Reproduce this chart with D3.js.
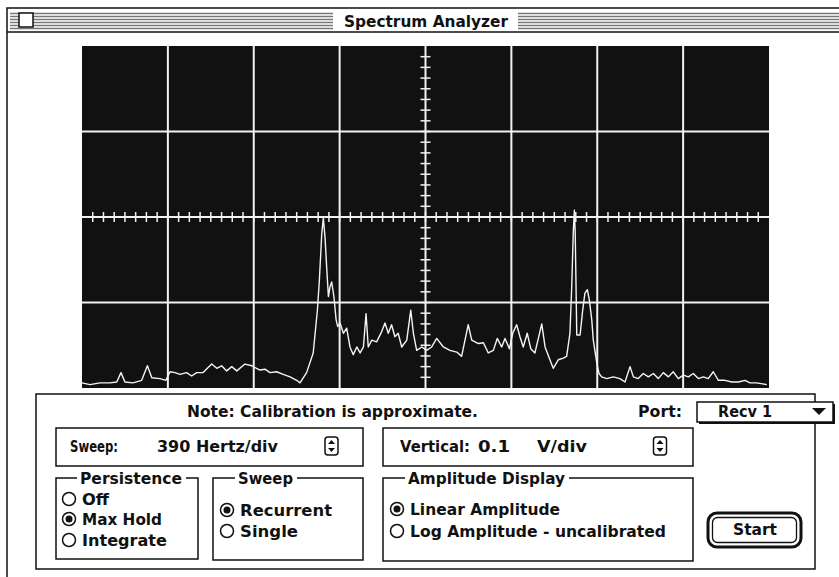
<!DOCTYPE html>
<html>
<head>
<meta charset="utf-8">
<script src="https://cdn.jsdelivr.net/npm/d3@7"></script>
<style>
  body{margin:0;background:#fff;}
  svg{display:block;}
  text{font-family:"DejaVu Sans",sans-serif;font-weight:bold;fill:#111;}
</style>
</head>
<body>
<script>
// sweep: 390 Hz/div, 8 div ; vertical: 0.1 V/div, 4 div
const freqHz=[0,36,82,127,158,177,195,232,271,297,
  317,354,381,400,422,445,475,498,521,550,
  589,612,634,657,680,703,740,771,808,831,
  854,884,914,945,975,990,1020,1050,1069,1078,
  1089,1096,1104,1111,1119,1126,1134,1144,1154,1161,
  1172,1187,1202,1217,1232,1248,1263,1278,1290,1300,
  1316,1338,1361,1376,1391,1406,1421,1436,1452,1475,
  1493,1505,1520,1543,1565,1588,1611,1641,1671,1702,
  1724,1754,1770,1800,1823,1845,1868,1886,1906,1921,
  1941,1956,1974,1989,2004,2022,2038,2057,2088,2103,
  2125,2140,2163,2186,2201,2216,2224,2231,2236,2240,
  2247,2262,2274,2284,2295,2304,2315,2322,2338,2348,
  2360,2383,2413,2443,2466,2489,2504,2526,2549,2572,
  2595,2617,2640,2663,2685,2708,2731,2754,2776,2799,
  2822,2844,2867,2890,2920,2951,2981,3011,3034,3064,3110];
const ampV=[0.006,0.004,0.006,0.006,0.007,0.018,0.007,0.006,0.009,0.026,
  0.012,0.011,0.009,0.019,0.018,0.016,0.018,0.014,0.018,0.018,
  0.028,0.023,0.026,0.020,0.025,0.020,0.028,0.026,0.021,0.022,
  0.018,0.019,0.016,0.013,0.009,0.006,0.018,0.041,0.091,0.126,
  0.181,0.199,0.175,0.142,0.107,0.118,0.124,0.107,0.080,0.072,
  0.076,0.064,0.070,0.048,0.039,0.048,0.041,0.048,0.087,0.048,
  0.056,0.054,0.066,0.076,0.064,0.074,0.060,0.064,0.048,0.056,
  0.091,0.064,0.044,0.048,0.044,0.048,0.058,0.048,0.044,0.042,
  0.037,0.074,0.056,0.052,0.053,0.041,0.044,0.058,0.048,0.058,
  0.046,0.064,0.074,0.060,0.048,0.064,0.046,0.041,0.075,0.048,
  0.033,0.023,0.033,0.035,0.037,0.064,0.118,0.181,0.208,0.181,
  0.062,0.062,0.091,0.111,0.115,0.103,0.080,0.056,0.029,0.017,
  0.013,0.011,0.013,0.011,0.007,0.025,0.013,0.011,0.017,0.013,
  0.017,0.011,0.018,0.013,0.019,0.011,0.015,0.013,0.017,0.011,
  0.013,0.011,0.019,0.009,0.009,0.007,0.007,0.009,0.006,0.006,0.004];

const hzPerDiv=390, vPerDiv=0.1, xDivs=8, yDivs=4, subDivs=8;
const persistenceOpts=["Off","Max Hold","Integrate"], persistenceSel=1;
const sweepOpts=["Recurrent","Single"], sweepSel=0;
const amplitudeOpts=["Linear Amplitude","Log Amplitude - uncalibrated"], amplitudeSel=0;

const w=839, h=577;
const plot={left:82,right:769,top:46,bottom:388};

const svg=d3.select("body").append("svg").attr("width",w).attr("height",h);
svg.append("rect").attr("width",w).attr("height",h).attr("fill","#fff");

const txt=(s,x,y,len,size,anchor)=>{
  const t=svg.append("text").text(s).attr("x",x).attr("y",y)
    .style("font-size",(size||14)+"px");
  if(anchor) t.attr("text-anchor",anchor);
  if(len) t.attr("textLength",len).attr("lengthAdjust","spacingAndGlyphs");
  return t;
};
const ln=(x1,y1,x2,y2,sw,col)=>svg.append("line")
  .attr("x1",x1).attr("y1",y1).attr("x2",x2).attr("y2",y2)
  .attr("stroke",col||"#111").attr("stroke-width",sw||1.5);

// window frame + title bar
svg.append("rect").attr("x",7).attr("y",8).attr("width",840).attr("height",600)
  .attr("fill","none").attr("stroke","#111").attr("stroke-width",1.5);
ln(7,32,839,32,1.5);
for(let i=0;i<6;i++){
  const y=13.5+i*3;
  ln(10,y,333,y,1.3,"#777");
  ln(518,y,839,y,1.3,"#777");
}
svg.append("rect").attr("x",19).attr("y",13).attr("width",14).attr("height",14)
  .attr("fill","#fff").attr("stroke","#111").attr("stroke-width",1.5);
txt("Spectrum Analyzer",344,27,164,15);

// scope screen
const x=d3.scaleLinear().domain([0,hzPerDiv*xDivs]).range([plot.left,plot.right]);
const y=d3.scaleLinear().domain([0,vPerDiv*yDivs]).range([plot.bottom,plot.top]);

const scr=svg.append("g");
scr.append("rect").attr("x",plot.left).attr("y",plot.top)
  .attr("width",plot.right-plot.left).attr("height",plot.bottom-plot.top).attr("fill","#111");

const xGrid=d3.range(1,xDivs).map(i=>i*hzPerDiv);
const yGrid=d3.range(1,yDivs).map(i=>i*vPerDiv);
scr.selectAll(".vg").data(xGrid).join("line")
  .attr("x1",d=>x(d)).attr("x2",d=>x(d)).attr("y1",plot.top).attr("y2",plot.bottom)
  .attr("stroke","#f2f2f2").attr("stroke-width",2);
scr.selectAll(".hg").data(yGrid).join("line")
  .attr("y1",d=>y(d)).attr("y2",d=>y(d)).attr("x1",plot.left).attr("x2",plot.right)
  .attr("stroke","#f2f2f2").attr("stroke-width",2);

const xc=hzPerDiv*xDivs/2, yc=vPerDiv*yDivs/2;
const xMinor=d3.range(1,xDivs*subDivs).map(i=>i*hzPerDiv/subDivs);
const yMinor=d3.range(1,yDivs*subDivs).map(i=>i*vPerDiv/subDivs);
scr.selectAll(".xm").data(xMinor).join("line")
  .attr("x1",d=>x(d)).attr("x2",d=>x(d)).attr("y1",y(yc)-5).attr("y2",y(yc)+5)
  .attr("stroke","#f2f2f2").attr("stroke-width",1.5);
scr.selectAll(".ym").data(yMinor).join("line")
  .attr("y1",d=>y(d)).attr("y2",d=>y(d)).attr("x1",x(xc)-5).attr("x2",x(xc)+5)
  .attr("stroke","#f2f2f2").attr("stroke-width",1.5);

const trace=freqHz.map((f,i)=>[f,ampV[i]]);
scr.append("path").datum(trace)
  .attr("d",d3.line().x(d=>x(d[0])).y(d=>y(d[1])))
  .attr("fill","none").attr("stroke","#f4f4f4").attr("stroke-width",1.4)
  .attr("stroke-linejoin","round");

// control panel
svg.append("rect").attr("x",36).attr("y",394).attr("width",779).attr("height",175)
  .attr("fill","#fff").attr("stroke","#111").attr("stroke-width",1.5);
txt("Note: Calibration is approximate.",187,417,291,15);
txt("Port:",638,417,44,15);
svg.append("rect").attr("x",699).attr("y",404).attr("width",136).attr("height",20).attr("fill","#111");
svg.append("rect").attr("x",697).attr("y",402).attr("width",136).attr("height",20)
  .attr("fill","#fff").attr("stroke","#111").attr("stroke-width",1.5);
txt("Recv 1",718,417,54,15);
svg.append("path").attr("d","M812,408 L826,408 L819,415 Z").attr("fill","#111");

const stepper=(cx,cy)=>{
  svg.append("rect").attr("x",cx-6.5).attr("y",cy-9).attr("width",13).attr("height",18).attr("rx",3)
    .attr("fill","#fff").attr("stroke","#111").attr("stroke-width",1.5);
  svg.append("path").attr("d",`M${cx-3.5},${cy-2} L${cx+3.5},${cy-2} L${cx},${cy-6} Z`).attr("fill","#111");
  svg.append("path").attr("d",`M${cx-3.5},${cy+2} L${cx+3.5},${cy+2} L${cx},${cy+6} Z`).attr("fill","#111");
};
svg.append("rect").attr("x",56).attr("y",428).attr("width",307).attr("height",38)
  .attr("fill","none").attr("stroke","#111").attr("stroke-width",1.5);
txt("Sweep:",70,452,48,15);
txt(`${hzPerDiv} Hertz/div`,157,452,121,15);
stepper(331.5,446);
svg.append("rect").attr("x",383).attr("y",428).attr("width",310).attr("height",38)
  .attr("fill","none").attr("stroke","#111").attr("stroke-width",1.5);
txt("Vertical:",400,452,70,15);
txt(`${vPerDiv}`,478,452,32,15);
txt("V/div",537,452,50,15);
stepper(660,446);

const group=(x0,x1,y0,y1,title,tx,tw)=>{
  svg.append("path").attr("d",`M${tx-3},${y0} L${x0},${y0} L${x0},${y1} L${x1},${y1} L${x1},${y0} L${tx+tw+4},${y0}`)
    .attr("fill","none").attr("stroke","#111").attr("stroke-width",1.5);
  txt(title,tx,484,tw,15);
};
const radio=(cx,cy,label,on,lw)=>{
  svg.append("circle").attr("cx",cx).attr("cy",cy).attr("r",6.5)
    .attr("fill","#fff").attr("stroke","#111").attr("stroke-width",1.5);
  if(on) svg.append("circle").attr("cx",cx).attr("cy",cy).attr("r",3.5).attr("fill","#111");
  txt(label,cx+13,cy+5.5,lw,15);
};

group(56,198,478,559,"Persistence",80,102);
const persistW=[27,80,85], persistY=[499,519,540];
persistenceOpts.forEach((o,i)=>radio(69,persistY[i],o,i===persistenceSel,persistW[i]));

group(213,363,478,560,"Sweep",238,55);
const sweepW=[92,58], sweepY=[510,531];
sweepOpts.forEach((o,i)=>radio(227,sweepY[i],o,i===sweepSel,sweepW[i]));

group(383,693,478,561,"Amplitude Display",408,157);
const ampW=[150,256], ampY=[509,531];
amplitudeOpts.forEach((o,i)=>radio(397,ampY[i],o,i===amplitudeSel,ampW[i]));

// Start button
svg.append("rect").attr("x",708).attr("y",513).attr("width",93).attr("height",34).attr("rx",9)
  .attr("fill","#fff").attr("stroke","#111").attr("stroke-width",3);
svg.append("rect").attr("x",712.5).attr("y",517.5).attr("width",84).attr("height",25).attr("rx",5)
  .attr("fill","none").attr("stroke","#111").attr("stroke-width",1.3);
txt("Start",755,535,44,15,"middle");
</script>
</body>
</html>
